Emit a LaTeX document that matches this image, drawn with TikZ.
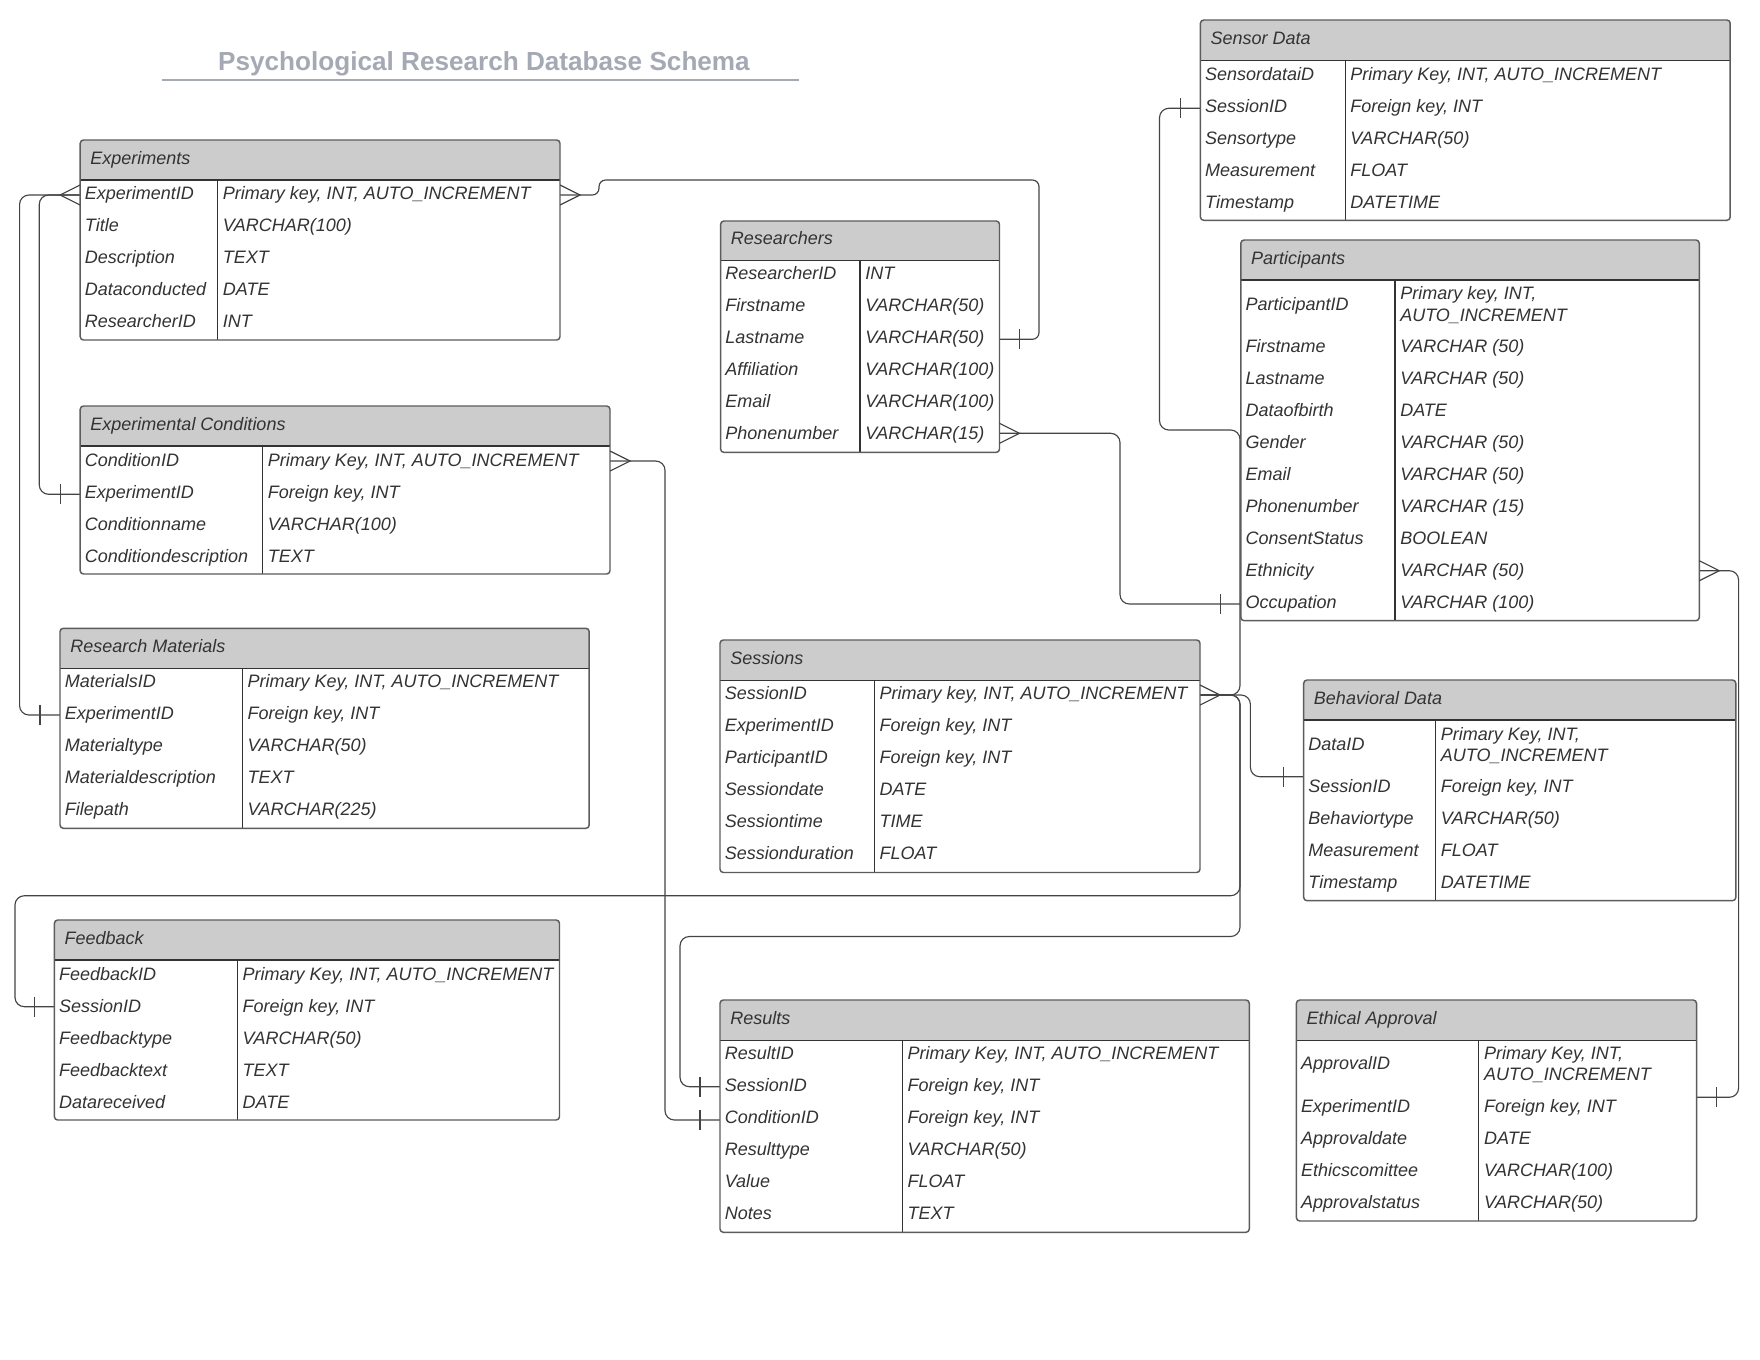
\documentclass[tikz,border=0pt]{standalone}
\usepackage{fontspec}
\setmainfont{Liberation Sans}
\usetikzlibrary{fit}
\definecolor{hdrgray}{HTML}{CCCCCC}
\definecolor{bordergray}{HTML}{5C5C5C}
\definecolor{darkline}{HTML}{333333}
\definecolor{txtgray}{HTML}{333333}
\definecolor{titlegray}{HTML}{A4A9B4}
\definecolor{conngray}{HTML}{444444}
\newcommand{\tblfont}{\fontsize{13.5}{16}\selectfont\itshape}
% table: #1 name #2 x1 #3 y1 #4 x2 #5 y2 #6 header bottom #7 divider x #8 title
\newcommand{\ertable}[8]{%
  \fill[white] (#2,#3) rectangle (#4,#5);
  \fill[hdrgray] (#2,#6) [rounded corners=2.5pt] -- (#2,#3) -- (#4,#3) [sharp corners] -- (#4,#6) -- cycle;
  \draw[sepline] (#2,#6) -- (#4,#6);
  \draw[divline] (#7,#6) -- (#7,#5);
  \node[tblbox, fit={(#2,#3) (#4,#5)}] (#1) {};
  \node[hdrtxt] (#1-h) at (#2+10,#6-16) {#8};
}
% row: #1 name prefix #2 x field #3 x type #4 y centre #5 field #6 type
\newcommand{\rw}[6]{%
  \node[celltxt] (#1f) at (#2,#4+6) {#5};
  \node[celltxt] (#1t) at (#3,#4+6) {#6};
}
\newcommand{\crowR}[1]{\draw[cfoot] ([shift={(0,-10)}]#1) -- ([shift={(20,0)}]#1) -- ([shift={(0,10)}]#1);}
\newcommand{\crowL}[1]{\draw[cfoot] ([shift={(0,-10)}]#1) -- ([shift={(-20,0)}]#1) -- ([shift={(0,10)}]#1);}
\newcommand{\barX}[2]{\draw[cfoot] ([shift={(#2,-10)}]#1) -- ([shift={(#2,10)}]#1);}
\begin{document}
\begin{tikzpicture}[x=0.75pt,y=-0.75pt,
  tblbox/.style={draw=bordergray, line width=1.1pt, rounded corners=2.5pt, inner sep=0pt},
  sepline/.style={draw=darkline, line width=1pt},
  divline/.style={draw=darkline, line width=0.8pt},
  celltxt/.style={anchor=base west, inner sep=0pt, font=\tblfont, text=txtgray},
  hdrtxt/.style={anchor=base west, inner sep=0pt, font=\tblfont, text=txtgray},
  conn/.style={draw=conngray, line width=0.85pt, rounded corners=7pt},
  cfoot/.style={draw=conngray, line width=0.85pt},
  titletxt/.style={anchor=base, inner sep=0pt, font=\fontsize{19.6}{24}\selectfont\bfseries, text=titlegray},
]
\fill[white] (0,0) rectangle (1760,1360);
\useasboundingbox (0,0) rectangle (1760,1360);

% title
\node[titletxt] (title) at (484,70) {Psychological Research Database Schema};
\coordinate (ulA) at (162,80);
\coordinate (ulB) at (799,80);
\draw[titlegray, line width=1.5pt] (ulA) -- (ulB);

% attachment points
\coordinate (expR) at (560,195);
\coordinate (expL) at (80.2,195);
\coordinate (resLast) at (999.5,339.3);
\coordinate (condExp) at (80.2,494.3);
\coordinate (matExp) at (60,715);
\coordinate (condCid) at (610,461);
\coordinate (rslCid) at (720,1120);
\coordinate (resPhone) at (999.5,433.3);
\coordinate (parOcc) at (1240.8,604);
\coordinate (sesSid) at (1200,695);
\coordinate (senSid) at (1200.4,108.3);
\coordinate (behSid) at (1303.7,776.7);
\coordinate (fbSid) at (54.4,1006.7);
\coordinate (rslSid) at (720,1086.7);
\coordinate (parEth) at (1699.3,570.7);
\coordinate (ethExp) at (1696.5,1097.3);

% connectors
\draw[conn, rounded corners=5pt] (expR) -- (599,195) -- (599,180) -- (1039,180) -- (1039,339.3) -- (resLast);
\draw[conn] (expL) -- (39.3,195) -- (39.3,494.3) -- (condExp);
\draw[conn] (expL) -- (19.6,195) -- (19.6,715) -- (matExp);
\draw[conn] (condCid) -- (665,461) -- (665,1120) -- (rslCid);
\draw[conn] (resPhone) -- (1120,433.3) -- (1120,604) -- (parOcc);
\draw[conn] (sesSid) -- (1240,695) -- (1240,430) -- (1159.5,430) -- (1159.5,108.3) -- (senSid);
\draw[conn] (sesSid) -- (1250.4,695) -- (1250.4,776.7) -- (behSid);
\draw[conn] (sesSid) -- (1240,695) -- (1240,895.7) -- (15,895.7) -- (15,1006.7) -- (fbSid);
\draw[conn] (sesSid) -- (1240,695) -- (1240,936.5) -- (680,936.5) -- (680,1086.7) -- (rslSid);
\draw[conn] (parEth) -- (1738.6,570.7) -- (1738.6,1097.3) -- (ethExp);

% tables
% Experiments
\ertable{exp}{80.2}{140}{560}{340}{180}{217.7}{Experiments}
\rw{exp-1}{84.7}{222.7}{193.3}{ExperimentID}{Primary key, INT, AUTO\_INCREMENT}
\rw{exp-2}{84.7}{222.7}{225.3}{Title}{VARCHAR(100)}
\rw{exp-3}{84.7}{222.7}{257.3}{Description}{TEXT}
\rw{exp-4}{84.7}{222.7}{289.3}{Dataconducted}{DATE}
\rw{exp-5}{84.7}{222.7}{321.3}{ResearcherID}{INT}

% Experimental Conditions
\ertable{cond}{80.2}{406}{610}{574}{446}{262.6}{Experimental Conditions}
\rw{cond-1}{84.7}{267.6}{460}{ConditionID}{Primary Key, INT, AUTO\_INCREMENT}
\rw{cond-2}{84.7}{267.6}{492}{ExperimentID}{Foreign key, INT}
\rw{cond-3}{84.7}{267.6}{524}{Conditionname}{VARCHAR(100)}
\rw{cond-4}{84.7}{267.6}{556}{Conditiondescription}{TEXT}

% Research Materials
\ertable{mat}{60}{628.3}{589.2}{828.3}{668.3}{242.4}{Research Materials}
\rw{mat-1}{64.5}{247.4}{681.7}{MaterialsID}{Primary Key, INT, AUTO\_INCREMENT}
\rw{mat-2}{64.5}{247.4}{713.7}{ExperimentID}{Foreign key, INT}
\rw{mat-3}{64.5}{247.4}{745.7}{Materialtype}{VARCHAR(50)}
\rw{mat-4}{64.5}{247.4}{777.7}{Materialdescription}{TEXT}
\rw{mat-5}{64.5}{247.4}{809.7}{Filepath}{VARCHAR(225)}

% Feedback
\ertable{fb}{54.4}{920}{559.5}{1120}{960}{237.4}{Feedback}
\rw{fb-1}{58.9}{242.4}{974}{FeedbackID}{Primary Key, INT, AUTO\_INCREMENT}
\rw{fb-2}{58.9}{242.4}{1006}{SessionID}{Foreign key, INT}
\rw{fb-3}{58.9}{242.4}{1038}{Feedbacktype}{VARCHAR(50)}
\rw{fb-4}{58.9}{242.4}{1070}{Feedbacktext}{TEXT}
\rw{fb-5}{58.9}{242.4}{1102}{Datareceived}{DATE}

% Researchers
\ertable{res}{720.6}{221}{999.5}{452.4}{260.4}{860}{Researchers}
\rw{res-1}{725.1}{865}{273.9}{ResearcherID}{INT}
\rw{res-2}{725.1}{865}{305.9}{Firstname}{VARCHAR(50)}
\rw{res-3}{725.1}{865}{337.9}{Lastname}{VARCHAR(50)}
\rw{res-4}{725.1}{865}{369.9}{Affiliation}{VARCHAR(100)}
\rw{res-5}{725.1}{865}{401.9}{Email}{VARCHAR(100)}
\rw{res-6}{725.1}{865}{433.9}{Phonenumber}{VARCHAR(15)}

% Sessions
\ertable{ses}{720}{640}{1200}{872.5}{680.5}{874.4}{Sessions}
\rw{ses-1}{724.5}{879.4}{693.5}{SessionID}{Primary key, INT, AUTO\_INCREMENT}
\rw{ses-2}{724.5}{879.4}{725.5}{ExperimentID}{Foreign key, INT}
\rw{ses-3}{724.5}{879.4}{757.5}{ParticipantID}{Foreign key, INT}
\rw{ses-4}{724.5}{879.4}{789.5}{Sessiondate}{DATE}
\rw{ses-5}{724.5}{879.4}{821.5}{Sessiontime}{TIME}
\rw{ses-6}{724.5}{879.4}{853.5}{Sessionduration}{FLOAT}

% Results
\ertable{rsl}{720}{1000}{1249.3}{1232.3}{1040.3}{902.4}{Results}
\rw{rsl-1}{724.5}{907.4}{1053.3}{ResultID}{Primary Key, INT, AUTO\_INCREMENT}
\rw{rsl-2}{724.5}{907.4}{1085.3}{SessionID}{Foreign key, INT}
\rw{rsl-3}{724.5}{907.4}{1117.3}{ConditionID}{Foreign key, INT}
\rw{rsl-4}{724.5}{907.4}{1149.3}{Resulttype}{VARCHAR(50)}
\rw{rsl-5}{724.5}{907.4}{1181.3}{Value}{FLOAT}
\rw{rsl-6}{724.5}{907.4}{1213.3}{Notes}{TEXT}

% Sensor Data
\ertable{sen}{1200.4}{20}{1730.2}{220.3}{60.3}{1345.2}{Sensor Data}
\rw{sen-1}{1204.9}{1350.2}{74}{SensordataiD}{Primary Key, INT, AUTO\_INCREMENT}
\rw{sen-2}{1204.9}{1350.2}{106}{SessionID}{Foreign key, INT}
\rw{sen-3}{1204.9}{1350.2}{138}{Sensortype}{VARCHAR(50)}
\rw{sen-4}{1204.9}{1350.2}{170}{Measurement}{FLOAT}
\rw{sen-5}{1204.9}{1350.2}{202}{Timestamp}{DATETIME}

% Participants
\ertable{par}{1240.8}{240}{1699.3}{620.7}{280}{1395}{Participants}
\node[celltxt] (par-1f) at (1245.3,304.3+6) {ParticipantID};
\node[celltxt] (par-1t) at (1400,293.3+6) {Primary key, INT,};
\node[celltxt] (par-1u) at (1400,315+6) {AUTO\_INCREMENT};
\rw{par-2}{1245.3}{1400}{346.7}{Firstname}{VARCHAR (50)}
\rw{par-3}{1245.3}{1400}{378.7}{Lastname}{VARCHAR (50)}
\rw{par-4}{1245.3}{1400}{410.7}{Dataofbirth}{DATE}
\rw{par-5}{1245.3}{1400}{442.7}{Gender}{VARCHAR (50)}
\rw{par-6}{1245.3}{1400}{474.7}{Email}{VARCHAR (50)}
\rw{par-7}{1245.3}{1400}{506.7}{Phonenumber}{VARCHAR (15)}
\rw{par-8}{1245.3}{1400}{538.7}{ConsentStatus}{BOOLEAN}
\rw{par-9}{1245.3}{1400}{570.7}{Ethnicity}{VARCHAR (50)}
\rw{par-10}{1245.3}{1400}{602.7}{Occupation}{VARCHAR (100)}

% Behavioral Data
\ertable{beh}{1303.7}{680}{1735.8}{900.7}{720}{1435.6}{Behavioral Data}
\node[celltxt] (beh-1f) at (1308.2,744.3+6) {DataID};
\node[celltxt] (beh-1t) at (1440.6,734+6) {Primary Key, INT,};
\node[celltxt] (beh-1u) at (1440.6,755+6) {AUTO\_INCREMENT};
\rw{beh-2}{1308.2}{1440.6}{786.7}{SessionID}{Foreign key, INT}
\rw{beh-3}{1308.2}{1440.6}{818.7}{Behaviortype}{VARCHAR(50)}
\rw{beh-4}{1308.2}{1440.6}{850.7}{Measurement}{FLOAT}
\rw{beh-5}{1308.2}{1440.6}{882.7}{Timestamp}{DATETIME}

% Ethical Approval
\ertable{eth}{1296.4}{1000}{1696.5}{1221}{1040.3}{1478.8}{Ethical Approval}
\node[celltxt] (eth-1f) at (1300.9,1063.3+6) {ApprovalID};
\node[celltxt] (eth-1t) at (1483.8,1053.3+6) {Primary Key, INT,};
\node[celltxt] (eth-1u) at (1483.8,1074+6) {AUTO\_INCREMENT};
\rw{eth-2}{1300.9}{1483.8}{1106.7}{ExperimentID}{Foreign key, INT}
\rw{eth-3}{1300.9}{1483.8}{1138.7}{Approvaldate}{DATE}
\rw{eth-4}{1300.9}{1483.8}{1170.7}{Ethicscomittee}{VARCHAR(100)}
\rw{eth-5}{1300.9}{1483.8}{1202.7}{Approvalstatus}{VARCHAR(50)}

% crow's feet and bars
\crowR{expR}
\crowL{expL}
\crowR{condCid}
\crowR{resPhone}
\crowR{sesSid}
\crowR{parEth}
\barX{resLast}{20}
\barX{condExp}{-20}
\barX{matExp}{-20}
\barX{rslCid}{-20}
\barX{parOcc}{-20}
\barX{senSid}{-20}
\barX{behSid}{-20}
\barX{fbSid}{-20}
\barX{rslSid}{-20}
\barX{ethExp}{20}
\end{tikzpicture}
\end{document}
